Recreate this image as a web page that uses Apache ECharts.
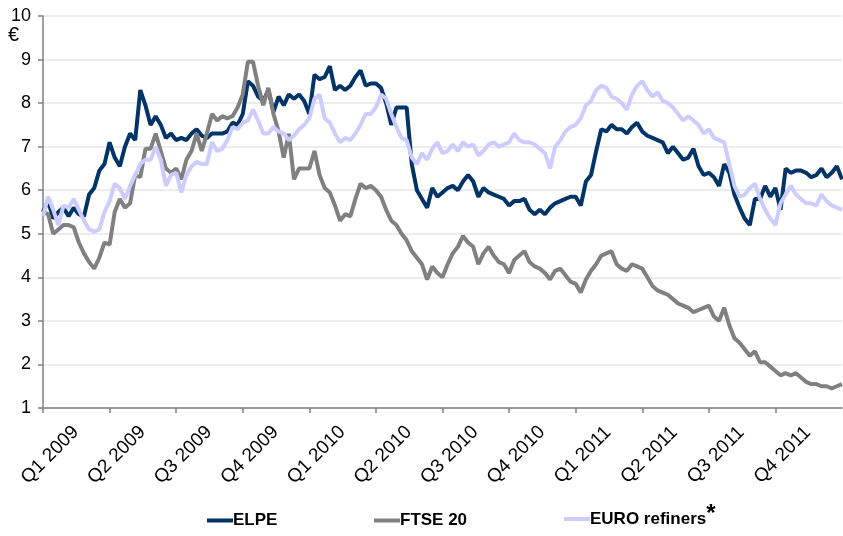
<!DOCTYPE html>
<html>
<head>
<meta charset="utf-8">
<script src="https://cdn.jsdelivr.net/npm/echarts@6/dist/echarts.min.js"></script>
<style>
html,body{margin:0;padding:0;background:#fff;}
#chart{width:843px;height:536px;}
</style>
</head>
<body>
<div id="chart"></div>
<script>
// Quarter tick labels
const quarterLabels = ['Q1 2009','Q2 2009','Q3 2009','Q4 2009','Q1 2010','Q2 2010','Q3 2010','Q4 2010','Q1 2011','Q2 2011','Q3 2011','Q4 2011'];
const weeksPerQuarter = 13;
// Weekly categories (13 weeks per quarter, plus closing week)
const categories = [];
quarterLabels.forEach(q => { for (let w = 1; w <= weeksPerQuarter; w++) categories.push(q + ' W' + w); });
categories.push('Q1 2012 W1');

const yTicks = [1,2,3,4,5,6,7,8,9,10];

const elpe = [5.5,5.75,5.35,5.5,5.6,5.4,5.6,5.45,5.4,5.9,6.05,6.45,6.6,
7.1,6.75,6.55,7.0,7.3,7.15,8.3,7.95,7.5,7.7,7.5,7.2,7.3,
7.15,7.2,7.15,7.3,7.4,7.25,7.2,7.3,7.3,7.3,7.35,7.55,7.5,
7.75,8.5,8.4,8.15,8.05,8.3,7.8,8.15,7.95,8.2,8.1,8.2,8.05,
7.75,8.65,8.55,8.6,8.85,8.3,8.4,8.3,8.4,8.6,8.75,8.4,8.45,
8.45,8.35,8.0,7.5,7.9,7.9,7.9,6.6,6.0,5.8,5.6,6.05,5.85,
5.95,6.05,6.1,6.0,6.2,6.35,6.2,5.85,6.05,5.95,5.9,5.85,5.8,
5.65,5.75,5.75,5.8,5.55,5.45,5.55,5.45,5.6,5.7,5.75,5.8,5.85,
5.85,5.65,6.2,6.35,6.9,7.4,7.35,7.5,7.4,7.4,7.3,7.45,7.55,
7.35,7.25,7.2,7.15,7.1,6.85,7.0,6.85,6.7,6.75,6.95,6.55,6.35,
6.4,6.3,6.1,6.6,6.4,5.9,5.6,5.35,5.2,5.8,5.8,6.1,5.85,
6.05,5.55,6.5,6.4,6.45,6.45,6.4,6.3,6.35,6.5,6.3,6.4,6.55,
6.25];

const ftse20 = [5.5,5.45,5.0,5.1,5.2,5.2,5.15,4.8,4.55,4.35,4.2,4.45,4.8,
4.75,5.5,5.8,5.6,5.7,6.35,6.3,6.95,6.95,7.3,6.9,6.5,6.4,
6.5,6.25,6.7,6.9,7.3,6.9,7.3,7.75,7.6,7.7,7.65,7.7,7.9,
8.2,8.95,8.95,8.4,7.95,8.35,7.75,7.35,6.75,7.3,6.25,6.5,6.5,
6.5,6.9,6.35,6.05,5.95,5.65,5.3,5.45,5.4,5.8,6.15,6.05,6.1,
6.0,5.85,5.55,5.3,5.2,5.0,4.85,4.6,4.45,4.3,3.95,4.25,4.1,
4.0,4.3,4.55,4.7,4.95,4.8,4.7,4.3,4.55,4.7,4.5,4.35,4.3,
4.1,4.4,4.5,4.6,4.35,4.25,4.2,4.1,3.95,4.15,4.2,4.05,3.9,
3.85,3.65,3.95,4.15,4.3,4.5,4.55,4.6,4.3,4.2,4.15,4.3,4.25,
4.2,4.0,3.8,3.7,3.65,3.6,3.5,3.4,3.35,3.3,3.2,3.25,3.3,
3.35,3.1,3.0,3.3,2.9,2.6,2.5,2.35,2.2,2.3,2.05,2.05,1.95,
1.85,1.75,1.8,1.75,1.8,1.7,1.6,1.55,1.55,1.5,1.5,1.45,1.5,
1.55];

const euroRefiners = [5.4,5.85,5.55,5.2,5.65,5.6,5.8,5.55,5.3,5.1,5.05,5.1,5.5,
5.75,6.15,6.05,5.8,6.1,6.35,6.6,6.7,6.7,7.0,6.7,6.1,6.35,
6.4,5.95,6.35,6.55,6.65,6.6,6.6,7.1,6.9,6.95,7.15,7.45,7.4,
7.55,7.6,7.85,7.6,7.3,7.3,7.45,7.35,7.3,7.15,7.25,7.4,7.5,
7.65,8.1,8.2,7.65,7.55,7.3,7.1,7.2,7.15,7.3,7.5,7.75,7.75,
7.9,8.2,8.1,7.75,7.45,7.2,7.15,6.75,6.6,6.85,6.7,6.95,7.1,
6.85,6.9,7.05,6.9,7.1,7.0,7.05,6.8,6.9,7.05,7.1,7.0,7.05,
7.1,7.3,7.15,7.1,7.1,7.05,6.95,6.85,6.5,7.0,7.15,7.35,7.45,
7.5,7.65,7.95,8.05,8.3,8.4,8.35,8.15,8.1,8.0,7.85,8.2,8.4,
8.5,8.3,8.15,8.25,8.05,8.0,7.9,7.75,7.6,7.7,7.6,7.5,7.3,
7.4,7.2,7.15,7.1,6.6,6.1,5.85,5.9,6.05,6.15,5.8,5.55,5.35,
5.2,5.7,5.9,6.1,5.9,5.8,5.7,5.7,5.65,5.9,5.75,5.65,5.6,
5.55];

const seriesNames = ['ELPE','FTSE 20','EURO refiners'];
const seriesColors = ['#003366','#808080','#CCCCFF'];
const seriesData = [elpe, ftse20, euroRefiners];

const FONT = '"Liberation Sans", Arial, sans-serif';
const isQuarterStart = (i) => i % weeksPerQuarter === 0 && i < categories.length - 1;

const chart = echarts.init(document.getElementById('chart'), null, {renderer: 'canvas'});

const legendLefts = [207, 374, 564];
const legendTops = [512, 512, 502];

chart.setOption({
  animation: false,
  backgroundColor: '#ffffff',
  grid: {left: 43, right: 1, top: 16, bottom: 128, containLabel: false, outerBoundsMode: 'none'},
  graphic: [{
    type: 'text', left: 8, top: 25,
    style: {text: '€', fontSize: 20, fontFamily: FONT, fill: '#000'}
  }],
  legend: seriesNames.map((n, i) => ({
    data: [n],
    left: legendLefts[i],
    top: legendTops[i],
    icon: 'rect',
    itemWidth: 26,
    itemHeight: 4,
    itemGap: 0,
    padding: 0,
    selectedMode: false,
    formatter: (name) => name === 'EURO refiners' ? name + '{s|*}' : name,
    textStyle: {
      fontFamily: FONT, fontSize: 17, fontWeight: 'bold', color: '#000',
      padding: [0, 0, 0, -5],
      rich: {s: {fontFamily: FONT, fontSize: 24, fontWeight: 'bold', color: '#000', padding: [0, 0, 10, 0]}}
    }
  })),
  xAxis: {
    type: 'category',
    data: categories,
    boundaryGap: false,
    axisLine: {lineStyle: {color: '#808080', width: 1.5}},
    axisTick: {show: true, interval: isQuarterStart, length: 5, lineStyle: {color: '#808080', width: 1.5}},
    axisLabel: {
      interval: isQuarterStart,
      rotate: 45,
      align: 'center',
      verticalAlign: 'middle',
      margin: 54,
      padding: [0, 0, 0, 20],
      fontFamily: FONT, fontSize: 19, color: '#000',
      formatter: (v) => v.split(' W')[0]
    },
    splitLine: {show: false}
  },
  yAxis: {
    type: 'value',
    min: yTicks[0], max: yTicks[yTicks.length - 1], interval: 1,
    axisLine: {show: true, lineStyle: {color: '#808080', width: 1.5}},
    axisTick: {show: true, length: 5, lineStyle: {color: '#808080', width: 1.5}},
    axisLabel: {margin: 12, fontFamily: FONT, fontSize: 18, color: '#000'},
    splitLine: {show: true, lineStyle: {color: '#e6e6e6', width: 1.5}}
  },
  series: seriesNames.map((n, i) => ({
    name: n,
    type: 'line',
    data: seriesData[i],
    showSymbol: false,
    symbol: 'none',
    lineStyle: {color: seriesColors[i], width: 4},
    itemStyle: {color: seriesColors[i]},
    emphasis: {disabled: true}
  }))
});
</script>
</body>
</html>
